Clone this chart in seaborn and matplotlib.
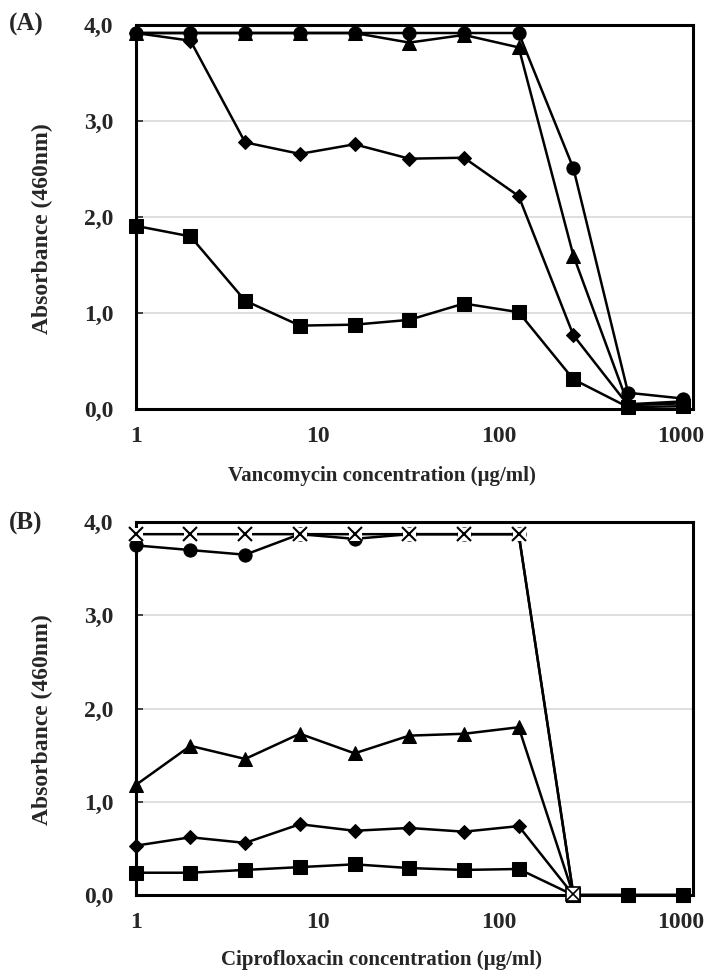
import numpy as np
import pandas as pd
import matplotlib
matplotlib.use("Agg")
import matplotlib.pyplot as plt
from matplotlib.ticker import FixedLocator, LogLocator, NullFormatter
import seaborn as sns

sns.set_style("white")
plt.rcParams['font.family'] = ['Liberation Serif', 'DejaVu Serif']
plt.rcParams['font.weight'] = 'bold'

conc = [1, 2, 4, 8, 16, 32, 64, 128, 256, 512, 1024]

# panel A - vancomycin
vanc_circle = [3.92, 3.92, 3.92, 3.92, 3.92, 3.92, 3.92, 3.92, 2.51, 0.17, 0.11]
vanc_triangle = [3.92, 3.92, 3.92, 3.92, 3.92, 3.82, 3.90, 3.77, 1.60, 0.05, 0.08]
vanc_diamond = [3.92, 3.84, 2.78, 2.66, 2.76, 2.61, 2.62, 2.22, 0.77, 0.04, 0.06]
vanc_square = [1.91, 1.80, 1.13, 0.87, 0.88, 0.93, 1.10, 1.01, 0.31, 0.02, 0.03]

# panel B - ciprofloxacin
cipro_cross = [3.87, 3.87, 3.87, 3.87, 3.87, 3.87, 3.87, 3.87, 0.01]
cipro_circle = [3.75, 3.70, 3.65, 3.87, 3.82, 3.87, 3.87, 3.87, 0.0, 0.0, 0.0]
cipro_triangle = [1.18, 1.60, 1.46, 1.73, 1.52, 1.71, 1.73, 1.80, 0.0, 0.0, 0.0]
cipro_diamond = [0.53, 0.62, 0.56, 0.76, 0.69, 0.72, 0.68, 0.74, 0.0, 0.0, 0.0]
cipro_square = [0.24, 0.24, 0.27, 0.30, 0.33, 0.29, 0.27, 0.28, 0.0, 0.0, 0.0]

yticks = [0, 1, 2, 3, 4]
ytick_labels = ['0,0', '1,0', '2,0', '3,0', '4,0']
xticks = [1, 10, 100, 1000]
xtick_labels = ['1', '10', '100', '1000']

styles = {
    'circle': dict(marker='o', markersize=9.5),
    'triangle': dict(marker='^', markersize=10),
    'diamond': dict(marker='D', markersize=7),
    'square': dict(marker='s', markersize=10.5),
}

fig = plt.figure(figsize=(7.05, 9.74), dpi=100)
axA = fig.add_axes([0.1925, 0.580, 0.790, 0.394])
axB = fig.add_axes([0.1925, 0.081, 0.790, 0.383])


def draw(ax, series):
    for name, vals in series:
        df = pd.DataFrame({'x': conc[:len(vals)], 'y': vals})
        if name == 'cross':
            sns.lineplot(data=df, x='x', y='y', ax=ax, color='black', lw=1.8,
                         marker='s', markersize=9, markerfacecolor='white',
                         markeredgecolor='white', zorder=5, clip_on=False)
            ax.plot(df['x'][:-1], df['y'][:-1], ls='none', marker='x',
                    markersize=9.5, mew=1.5, color='black', zorder=6, clip_on=False)
            ax.plot(df['x'][-1:], df['y'][-1:], ls='none', marker='s',
                    markersize=10, mfc='white', mec='black', mew=1.2, zorder=6, clip_on=False)
            ax.plot(df['x'][-1:], df['y'][-1:], ls='none', marker='x',
                    markersize=9.5, mew=1.2, color='black', zorder=7, clip_on=False)
        else:
            st = styles[name]
            sns.lineplot(data=df, x='x', y='y', ax=ax, color='black', lw=1.8,
                         markerfacecolor='black', markeredgecolor='black',
                         zorder=4, clip_on=False, **st)


def style_axis(ax, xlabel, xlab_y):
    ax.set_xscale('log')
    ax.set_xlim(1, 1160)
    ax.set_ylim(0, 4)
    ax.yaxis.set_major_locator(FixedLocator(yticks))
    ax.set_yticklabels(ytick_labels, fontsize=17, fontweight='bold')
    ax.xaxis.set_major_locator(FixedLocator(xticks))
    ax.set_xticklabels(xtick_labels, fontsize=17, fontweight='bold')
    ax.xaxis.set_minor_locator(LogLocator(base=10, subs=np.arange(2, 10)))
    ax.xaxis.set_minor_formatter(NullFormatter())
    ax.tick_params(axis='x', which='major', direction='in', length=6, width=1.2, pad=12)
    ax.tick_params(axis='x', which='minor', direction='in', length=4, width=1.0)
    ax.tick_params(axis='y', which='major', direction='in', length=5, width=1.2, pad=16, left=True)
    ax.grid(axis='y', color='#d9d9d9', lw=1.2)
    ax.grid(axis='x', visible=False)
    for s in ax.spines.values():
        s.set_visible(True)
        s.set_color('black')
        s.set_linewidth(2.2)
    ax.set_xlabel(xlabel, fontsize=15, fontweight='bold')
    ax.xaxis.set_label_coords(0.442, xlab_y)
    ax.set_ylabel('Absorbance (460nm)', fontsize=17, fontweight='bold')
    ax.yaxis.set_label_coords(-0.148, 0.47)


draw(axA, [('circle', vanc_circle), ('triangle', vanc_triangle),
           ('diamond', vanc_diamond), ('square', vanc_square)])
style_axis(axA, 'Vancomycin concentration (\u00b5g/ml)', -0.148)

draw(axB, [('circle', cipro_circle), ('triangle', cipro_triangle),
           ('diamond', cipro_diamond), ('square', cipro_square),
           ('cross', cipro_cross)])
style_axis(axB, 'Ciprofloxacin concentration (\u00b5g/ml)', -0.148)

fig.text(0.012, 0.975, '(A)', fontsize=18, fontweight='bold', va='center')
fig.text(0.012, 0.463, '(B)', fontsize=18, fontweight='bold', va='center')

fig.savefig('out.png', dpi=100)
